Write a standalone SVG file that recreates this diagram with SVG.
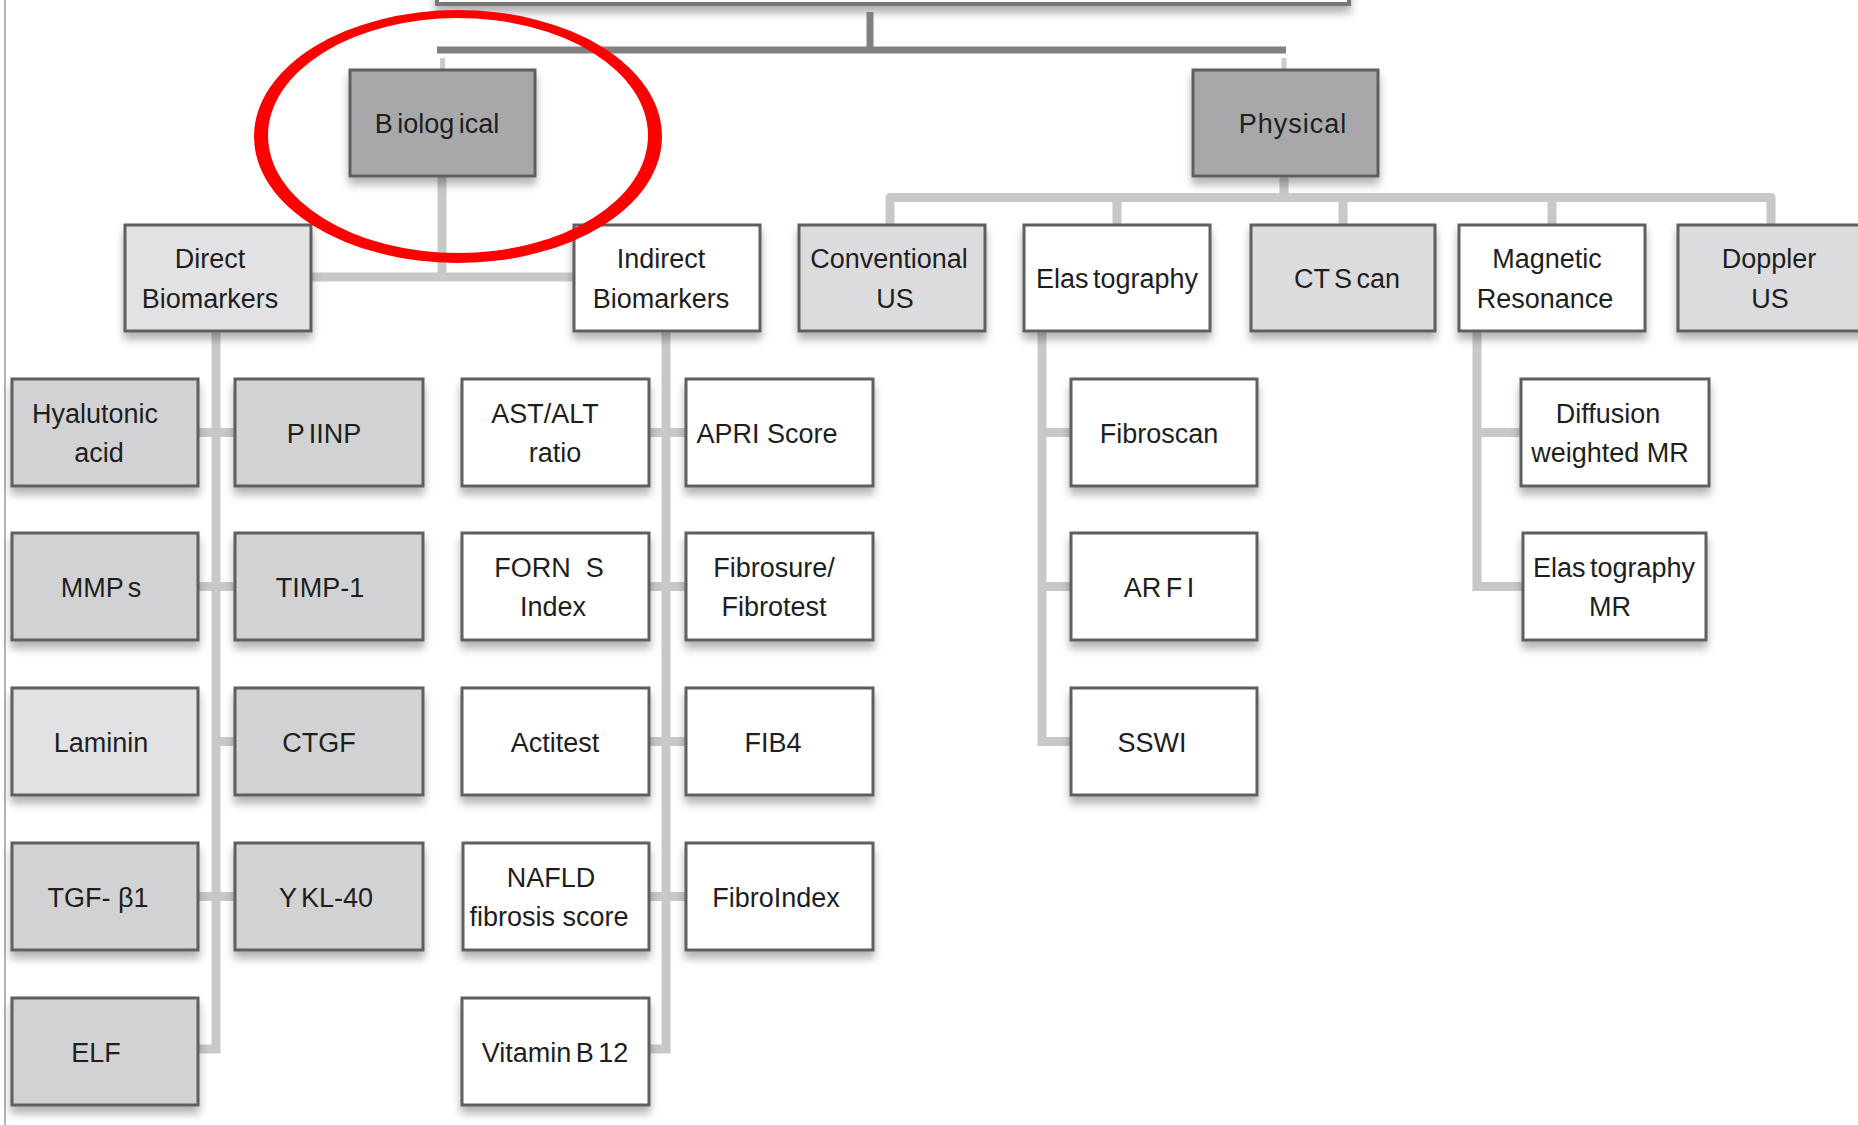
<svg xmlns="http://www.w3.org/2000/svg" width="1858" height="1125" viewBox="0 0 1858 1125">
<defs>
<filter id="sh" x="-10%" y="-10%" width="120%" height="140%">
<feDropShadow dx="0" dy="7" stdDeviation="4" flood-color="#000" flood-opacity="0.3"/>
</filter>
<style>
.box{stroke:#5e5e5e;stroke-width:3;filter:url(#sh)}
.l1{fill:#a8a8aa}
.l2g{fill:#dcdcde}
.g{fill:#d2d2d4}
.lg{fill:#e2e2e4}
.w{fill:#ffffff}
text{font-family:"Liberation Sans",Arial,sans-serif;font-size:27px;fill:#1e1e1e;text-anchor:middle}
.ks{word-spacing:-3px}
.con{fill:none;stroke:#c8c8c8;stroke-width:9}
.dk{fill:none;stroke:#808080;stroke-width:7}
</style>
</defs>
<rect width="1858" height="1125" fill="#ffffff"/>
<line x1="5" y1="0" x2="5" y2="1125" stroke="#b4b4b4" stroke-width="2"/>

<g id="top">
<rect class="box w" x="437" y="-50" width="912" height="54" style="stroke:#777;stroke-width:4"/>
</g>

<g id="connectors">
<path class="dk" d="M870 12 V50"/>
<path class="dk" d="M437 50 H1286"/>
<path d="M442.5 58 V71 M1284 58 V71" stroke="#cccccc" stroke-width="5" fill="none"/>
<path class="con" d="M442 176 V277 M311 277 H574"/>
<path class="con" d="M1284 176 V197.5"/>
<path class="con" d="M890 225 V197.5 H1771 V225" stroke-linejoin="round"/>
<path class="con" d="M1117 197.5 V225 M1343 197.5 V225 M1552 197.5 V225"/>
<path class="con" d="M216 331 V1049 H198"/>
<path class="con" d="M198 432.5 H235 M198 586.5 H235 M216 741.5 H235 M198 896.5 H235"/>
<path class="con" d="M666 331 V1049 H649"/>
<path class="con" d="M649 432.5 H686 M649 586.5 H686 M649 741.5 H686 M649 896.5 H686"/>
<path class="con" d="M1042 331 V741.5 H1071 M1042 432.5 H1071 M1042 586.5 H1071"/>
<path class="con" d="M1477 331 V586.5 H1523 M1477 432.5 H1521"/>
</g>

<g id="biological"><rect class="box l1" x="350" y="70" width="185" height="106"/><text class="ks" x="437" y="133">B iolog ical</text></g>
<g id="physical"><rect class="box l1" x="1193" y="70" width="185" height="106"/><text x="1293" y="133" style="letter-spacing:1px">Physical</text></g>

<g id="direct"><rect class="box lg" x="125" y="225" width="186" height="106"/><text x="210" y="268">Direct</text><text x="210" y="308">Biomarkers</text></g>
<g id="indirect"><rect class="box w" x="574" y="225" width="186" height="106"/><text x="661" y="268">Indirect</text><text x="661" y="308">Biomarkers</text></g>
<g id="conventional"><rect class="box l2g" x="799" y="225" width="186" height="106"/><text x="889" y="268">Conventional</text><text x="895" y="308">US</text></g>
<g id="elastography"><rect class="box w" x="1024" y="225" width="186" height="106"/><text class="ks" x="1117" y="288">Elas tography</text></g>
<g id="ctscan"><rect class="box l2g" x="1251" y="225" width="184" height="106"/><text class="ks" x="1347" y="288">CT S can</text></g>
<g id="mr"><rect class="box w" x="1459" y="225" width="186" height="106"/><text x="1547" y="268">Magnetic</text><text x="1545" y="308">Resonance</text></g>
<g id="doppler"><rect class="box l2g" x="1678" y="225" width="186" height="106"/><text x="1769" y="268">Doppler</text><text x="1770" y="308">US</text></g>

<g id="hyalutonic"><rect class="box g" x="12" y="379" width="186" height="107"/><text x="95" y="423">Hyalutonic</text><text x="99" y="462">acid</text></g>
<g id="piinp"><rect class="box g" x="235" y="379" width="188" height="107"/><text class="ks" x="324" y="442.5">P IINP</text></g>
<g id="mmps"><rect class="box g" x="12" y="533" width="186" height="107"/><text class="ks" x="101" y="596.5">MMP s</text></g>
<g id="timp1"><rect class="box g" x="235" y="533" width="188" height="107"/><text x="320" y="596.5">TIMP-1</text></g>
<g id="laminin"><rect class="box lg" x="12" y="688" width="186" height="107"/><text x="101" y="751.5">Laminin</text></g>
<g id="ctgf"><rect class="box g" x="235" y="688" width="188" height="107"/><text x="319" y="751.5">CTGF</text></g>
<g id="tgfb1"><rect class="box g" x="12" y="843" width="186" height="107"/><text x="98" y="906.5">TGF- β1</text></g>
<g id="ykl40"><rect class="box g" x="235" y="843" width="188" height="107"/><text class="ks" x="326" y="906.5">Y KL-40</text></g>
<g id="elf"><rect class="box g" x="12" y="998" width="186" height="107"/><text x="96" y="1061.5">ELF</text></g>

<g id="astalt"><rect class="box w" x="462" y="379" width="187" height="107"/><text x="545" y="423">AST/ALT</text><text x="555" y="462">ratio</text></g>
<g id="apri"><rect class="box w" x="686" y="379" width="187" height="107"/><text x="767" y="442.5">APRI Score</text></g>
<g id="forns"><rect class="box w" x="462" y="533" width="187" height="107"/><text x="549" y="577" xml:space="preserve">FORN  S</text><text x="553" y="616">Index</text></g>
<g id="fibrosure"><rect class="box w" x="686" y="533" width="187" height="107"/><text x="774" y="577">Fibrosure/</text><text x="774" y="616">Fibrotest</text></g>
<g id="actitest"><rect class="box w" x="462" y="688" width="187" height="107"/><text x="555" y="751.5">Actitest</text></g>
<g id="fib4"><rect class="box w" x="686" y="688" width="187" height="107"/><text x="773" y="751.5">FIB4</text></g>
<g id="nafld"><rect class="box w" x="463" y="843" width="186" height="107"/><text x="551" y="887">NAFLD</text><text x="549" y="926">fibrosis score</text></g>
<g id="fibroindex"><rect class="box w" x="686" y="843" width="187" height="107"/><text x="776" y="906.5">FibroIndex</text></g>
<g id="vitb12"><rect class="box w" x="462" y="998" width="187" height="107"/><text class="ks" x="555" y="1061.5">Vitamin B 12</text></g>

<g id="fibroscan"><rect class="box w" x="1071" y="379" width="186" height="107"/><text x="1159" y="442.5">Fibroscan</text></g>
<g id="arfi"><rect class="box w" x="1071" y="533" width="186" height="107"/><text class="ks" x="1159" y="596.5">AR F I</text></g>
<g id="sswi"><rect class="box w" x="1071" y="688" width="186" height="107"/><text x="1152" y="751.5">SSWI</text></g>
<g id="dwmr"><rect class="box w" x="1521" y="379" width="188" height="107"/><text x="1608" y="423">Diffusion</text><text x="1610" y="462">weighted MR</text></g>
<g id="elastomr"><rect class="box w" x="1523" y="533" width="183" height="107"/><text class="ks" x="1614" y="577">Elas tography</text><text x="1610" y="616">MR</text></g>

<g id="highlight">
<path fill="#ff0000" fill-rule="evenodd" d="M254 136.5 A204 126.5 0 1 0 662 136.5 A204 126.5 0 1 0 254 136.5 Z M268 135.5 A190 117.5 0 1 0 648 135.5 A190 117.5 0 1 0 268 135.5 Z"/>
</g>
</svg>
